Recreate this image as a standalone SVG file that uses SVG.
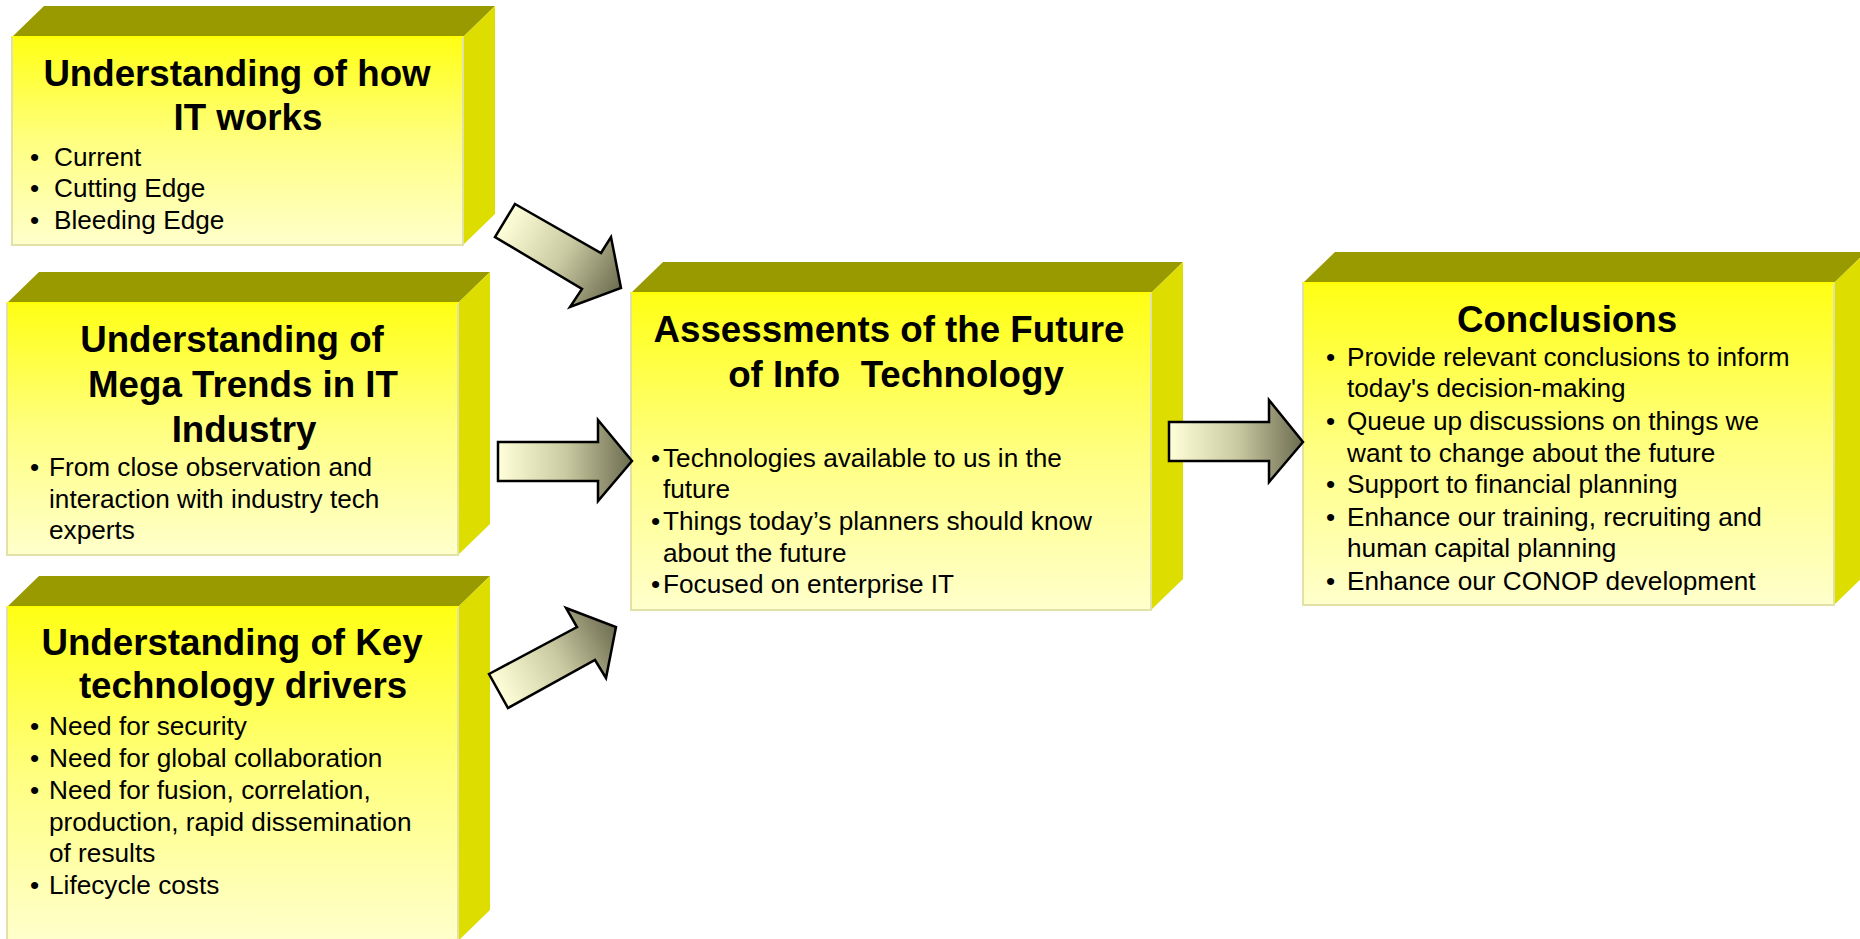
<svg xmlns="http://www.w3.org/2000/svg" width="1860" height="939" viewBox="0 0 1860 939">
<style>
.top{fill:#999900}
.side{fill:#DDDD00}
.front{fill:url(#fg);stroke:#E2E2A8;stroke-width:2}
.edge{stroke:#FFFF00;stroke-width:2}
.title{font-family:"Liberation Sans",Arial,sans-serif;font-weight:bold;font-size:36.7px;fill:#000;text-anchor:middle}
.body{font-family:"Liberation Sans",Arial,sans-serif;font-size:26.2px;fill:#000}
.arrow{stroke:#000;stroke-width:2.5;stroke-linejoin:miter}
</style>
<defs>
<linearGradient id="fg" x1="0" y1="0" x2="0" y2="1">
<stop offset="0" stop-color="#FFFF14"/>
<stop offset="0.5" stop-color="#FFFF80"/>
<stop offset="1" stop-color="#FFFFCC"/>
</linearGradient>
<linearGradient id="a1" gradientUnits="userSpaceOnUse" x1="505" y1="220" x2="621" y2="288">
<stop offset="0" stop-color="#FFFFD9"/><stop offset="0.5" stop-color="#CBCBA3"/><stop offset="1" stop-color="#6C6C50"/>
</linearGradient>
<linearGradient id="a2" gradientUnits="userSpaceOnUse" x1="498" y1="0" x2="632" y2="0">
<stop offset="0" stop-color="#FFFFD9"/><stop offset="0.5" stop-color="#CBCBA3"/><stop offset="1" stop-color="#6C6C50"/>
</linearGradient>
<linearGradient id="a3" gradientUnits="userSpaceOnUse" x1="498" y1="691" x2="616" y2="627">
<stop offset="0" stop-color="#FFFFD9"/><stop offset="0.5" stop-color="#CBCBA3"/><stop offset="1" stop-color="#6C6C50"/>
</linearGradient>
<linearGradient id="a4" gradientUnits="userSpaceOnUse" x1="1169" y1="0" x2="1303" y2="0">
<stop offset="0" stop-color="#FFFFD9"/><stop offset="0.5" stop-color="#CBCBA3"/><stop offset="1" stop-color="#6C6C50"/>
</linearGradient>
</defs>
<rect width="1860" height="939" fill="#FFFFFF"/>

<g id="box-how-it-works">
<polygon class="top" points="12,37 44,6 495,6 463,37"/>
<polygon class="side" points="463,37 495,6 495,214 463,245"/>
<rect class="front" x="12" y="37" width="451" height="208"/>
<line class="edge" x1="12" y1="37" x2="463" y2="37"/>
<text class="title" x="237" y="86">Understanding of how</text>
<text class="title" x="248" y="130">IT works</text>
<text class="body" x="30" y="166">•</text><text class="body" x="54" y="166">Current</text>
<text class="body" x="30" y="197">•</text><text class="body" x="54" y="197">Cutting Edge</text>
<text class="body" x="30" y="229">•</text><text class="body" x="54" y="229">Bleeding Edge</text>
</g>

<g id="box-mega-trends">
<polygon class="top" points="7,303 39,272 490,272 458,303"/>
<polygon class="side" points="458,303 490,272 490,524 458,555"/>
<rect class="front" x="7" y="303" width="451" height="252"/>
<line class="edge" x1="7" y1="303" x2="458" y2="303"/>
<text class="title" x="232" y="352">Understanding of</text>
<text class="title" x="243" y="397">Mega Trends in IT</text>
<text class="title" x="244" y="442">Industry</text>
<text class="body" x="30" y="476">•</text><text class="body" x="49" y="476">From close observation and</text>
<text class="body" x="49" y="508">interaction with industry tech</text>
<text class="body" x="49" y="539">experts</text>
</g>

<g id="box-key-drivers">
<polygon class="top" points="7,607 39,576 490,576 458,607"/>
<polygon class="side" points="458,607 490,576 490,910 458,941"/>
<rect class="front" x="7" y="607" width="451" height="334"/>
<line class="edge" x1="7" y1="607" x2="458" y2="607"/>
<text class="title" x="232" y="655">Understanding of Key</text>
<text class="title" x="243" y="698">technology drivers</text>
<text class="body" x="30" y="735">•</text><text class="body" x="49" y="735">Need for security</text>
<text class="body" x="30" y="767">•</text><text class="body" x="49" y="767">Need for global collaboration</text>
<text class="body" x="30" y="799">•</text><text class="body" x="49" y="799">Need for fusion, correlation,</text>
<text class="body" x="49" y="831">production, rapid dissemination</text>
<text class="body" x="49" y="862">of results</text>
<text class="body" x="30" y="894">•</text><text class="body" x="49" y="894">Lifecycle costs</text>
</g>

<g id="box-assessments">
<polygon class="top" points="631,293 663,262 1183,262 1151,293"/>
<polygon class="side" points="1151,293 1183,262 1183,579 1151,610"/>
<rect class="front" x="631" y="293" width="520" height="317"/>
<line class="edge" x1="631" y1="293" x2="1151" y2="293"/>
<text class="title" x="889" y="342">Assessments of the Future</text>
<text class="title" x="896" y="387" xml:space="preserve" style="white-space:pre">of Info  Technology</text>
<text class="body" x="651" y="467" font-size="22">•</text><text class="body" x="663" y="467">Technologies available to us in the</text>
<text class="body" x="663" y="498">future</text>
<text class="body" x="651" y="530" font-size="22">•</text><text class="body" x="663" y="530">Things today’s planners should know</text>
<text class="body" x="663" y="562">about the future</text>
<text class="body" x="651" y="593" font-size="22">•</text><text class="body" x="663" y="593">Focused on enterprise IT</text>
</g>

<g id="box-conclusions">
<polygon class="top" points="1303,283 1335,252 1866,252 1834,283"/>
<polygon class="side" points="1834,283 1866,252 1866,574 1834,605"/>
<rect class="front" x="1303" y="283" width="531" height="322"/>
<line class="edge" x1="1303" y1="283" x2="1834" y2="283"/>
<text class="title" x="1567" y="332">Conclusions</text>
<text class="body" x="1326" y="366">•</text><text class="body" x="1347" y="366">Provide relevant conclusions to inform</text>
<text class="body" x="1347" y="397">today's decision-making</text>
<text class="body" x="1326" y="430">•</text><text class="body" x="1347" y="430">Queue up discussions on things we</text>
<text class="body" x="1347" y="462">want to change about the future</text>
<text class="body" x="1326" y="493">•</text><text class="body" x="1347" y="493">Support to financial planning</text>
<text class="body" x="1326" y="526">•</text><text class="body" x="1347" y="526">Enhance our training, recruiting and</text>
<text class="body" x="1347" y="557">human capital planning</text>
<text class="body" x="1326" y="590">•</text><text class="body" x="1347" y="590">Enhance our CONOP development</text>
</g>

<g id="connectors">
<polygon class="arrow" fill="url(#a1)" points="515,204 601,253 611,237 621,288 570,307 582,289 495,237"/>
<polygon class="arrow" fill="url(#a2)" points="498,442 598,442 598,420 632,461 598,501 598,481 498,481"/>
<polygon class="arrow" fill="url(#a3)" points="489,674 577,627 566,608 616,627 606,678 595,660 508,708"/>
<polygon class="arrow" fill="url(#a4)" points="1169,422 1269,422 1269,400 1303,442 1269,482 1269,461 1169,461"/>
</g>
</svg>
